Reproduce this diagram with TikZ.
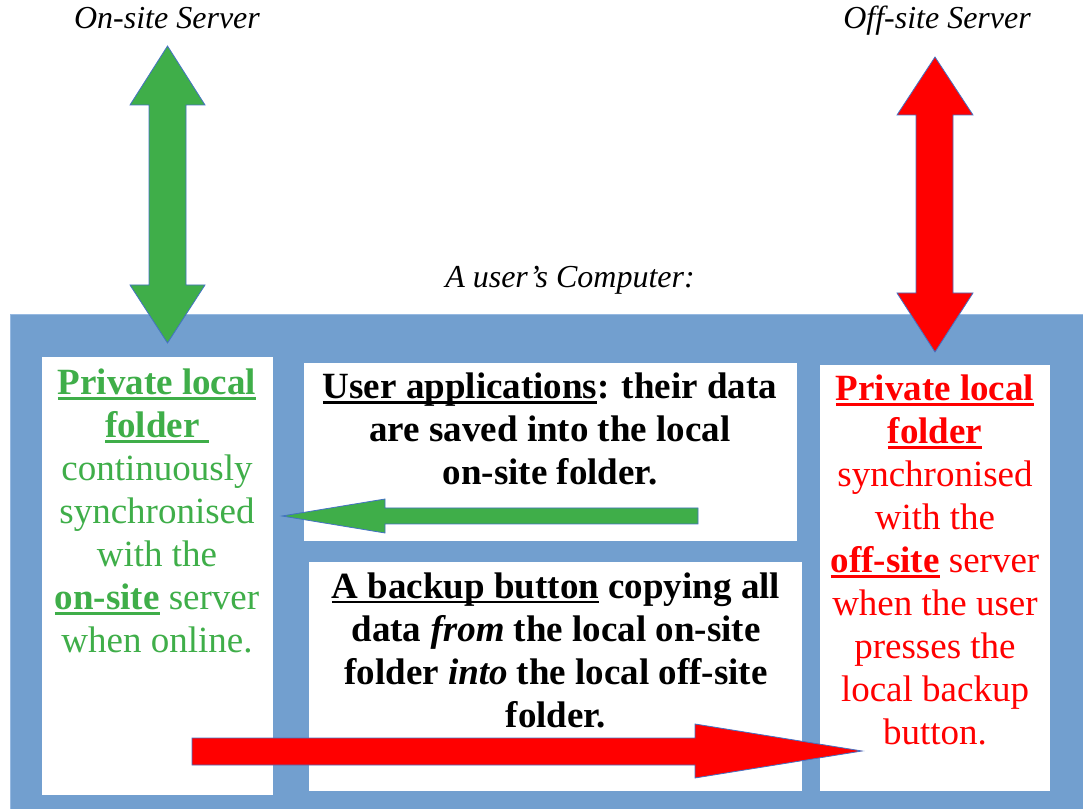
\documentclass[tikz,border=0pt]{standalone}
\usepackage{fontspec}
\setmainfont{Liberation Serif}
\definecolor{panelblue}{RGB}{114,159,207}
\definecolor{paneledge}{RGB}{150,185,225}
\definecolor{mygreen}{RGB}{63,174,73}
\definecolor{myred}{RGB}{255,0,0}
\definecolor{outlineblue}{RGB}{68,114,196}
\newcommand\myul[1]{\setbox0\hbox{#1}\rlap{\rule[-0.14em]{\wd0}{0.065em}}\box0\relax}
\newcommand\bodysize{\fontsize{27.75}{32.25}\selectfont}
\newcommand\titlesize{\fontsize{24}{28}\selectfont}
\tikzset{
  panel/.style={fill=panelblue, draw=paneledge, line width=0.6pt},
  whitebox/.style={fill=white, draw=none},
  txt/.style={inner sep=0pt, align=center, font=\bodysize},
  title/.style={inner sep=0pt, anchor=base, font=\titlesize\itshape},
  greenarrow/.style={fill=mygreen, draw=outlineblue, line width=0.6pt, line join=miter},
  redarrow/.style={fill=myred, draw=outlineblue, line width=0.6pt, line join=miter},
}
\begin{document}
\begin{tikzpicture}[x=0.75pt, y=-0.75pt]
\useasboundingbox (0,0) rectangle (1083,809);
% panel
\draw[panel] (10,314) rectangle (1090,815);
% white boxes
\fill[whitebox] (42,357) rectangle (273,795);
\fill[whitebox] (304,363) rectangle (797,541);
\fill[whitebox] (309,562) rectangle (802,791);
\fill[whitebox] (820,365) rectangle (1050,791);
% titles
\node[title] (onsite) at (167,29) {On-site Server};
\node[title] (offsite) at (937,29) {Off-site Server};
\node[title] (computer) at (570,288) {A user’s Computer:};
% texts
\node[txt, text=mygreen] (lefttext) at (157,511) {\textbf{\myul{Private local}}\\ \textbf{\myul{folder\ }}\\ continuously\\ synchronised\\ with the\\ \textbf{\myul{on-site}} server\\ when online.};
\node[txt, font=\bodysize\bfseries] (apptext) at (550,429) {\myul{User applications}: their data\\ are saved into the local\\ on-site folder.};
\node[txt, font=\bodysize\bfseries] (backuptext) at (556,650) {\myul{A backup button} copying all\\ data \textit{from} the local on-site\\ folder \textit{into} the local off-site\\ folder.};
\node[txt, text=myred] (righttext) at (935,560) {\textbf{\myul{Private local}}\\ \textbf{\myul{folder}}\\ synchronised\\ with the\\ \textbf{\myul{off-site}} server\\ when the user\\ presses the\\ local backup\\ button.};
% green double arrow (on-site server <-> local folder)
\draw[greenarrow] (167.5,46) -- (205,105) -- (186,105) -- (186,285) -- (205,285) -- (167.5,343) -- (130,285) -- (149,285) -- (149,105) -- (130,105) -- cycle;
% red double arrow (off-site server <-> local folder)
\draw[redarrow] (935,57) -- (973,115) -- (953,115) -- (953,293) -- (973,293) -- (935,352) -- (897,293) -- (916,293) -- (916,115) -- (897,115) -- cycle;
% green left arrow (applications -> on-site folder)
\draw[greenarrow] (282,516) -- (385,499) -- (385,508) -- (698,508) -- (698,524) -- (385,524) -- (385,533) -- cycle;
% red right arrow (backup button -> off-site folder)
\draw[redarrow] (192,738) -- (695,738) -- (695,724) -- (862,751) -- (695,778) -- (695,765) -- (192,765) -- cycle;
\end{tikzpicture}
\end{document}
